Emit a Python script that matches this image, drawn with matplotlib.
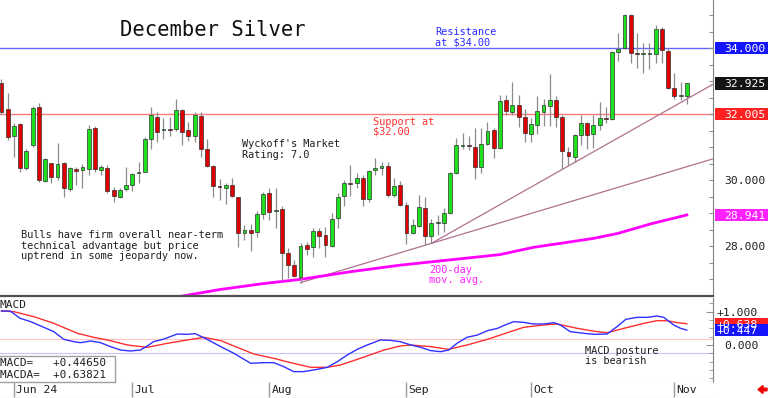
import matplotlib
matplotlib.use('Agg')
import matplotlib.pyplot as plt
from matplotlib.patches import Rectangle, FancyArrow
from matplotlib.transforms import IdentityTransform
import numpy as np

# ---------------- data ----------------
opens = [32.93, 32.14, 31.33, 31.69, 30.37, 31.06, 32.21, 29.97, 30.51, 30.10,
         30.52, 29.72, 30.32, 30.29, 30.32, 31.57, 30.31, 30.35, 29.70, 29.49,
         29.72, 29.86, 30.20, 30.25, 31.23, 31.90, 31.51, 31.53, 31.54, 32.12,
         31.52, 31.33, 31.94, 30.94, 30.42, 29.81, 29.75, 29.85, 29.48, 28.40,
         28.48, 28.43, 28.97, 29.60, 29.05, 29.12, 27.78, 27.42, 27.07, 28.02,
         27.98, 28.45, 28.33, 28.01, 28.84, 29.52, 29.91, 29.90, 30.05, 29.41,
         30.30, 30.35, 30.42, 29.55, 29.84, 29.23, 28.38, 28.62, 29.15, 28.30,
         28.70, 28.71, 29.01, 30.20, 31.03, 31.04, 30.99, 30.40, 31.08, 31.52,
         30.98, 32.42, 32.07, 32.27, 31.92, 31.39, 31.67, 32.07, 32.24, 32.42,
         31.92, 30.84, 30.71, 31.36, 31.72, 31.38, 31.67, 31.88, 31.85, 33.87,
         33.99, 35.00, 33.85, 33.81, 33.81, 33.82, 34.57, 33.92, 32.78, 32.54,
         32.55]
highs = [33.05, 32.65, 31.72, 31.72, 30.93, 32.24, 32.34, 30.68, 30.53, 31.11,
         30.55, 30.38, 30.40, 30.48, 31.66, 31.64, 30.45, 30.44, 29.78, 29.76,
         30.38, 30.22, 30.56, 31.31, 32.22, 32.07, 31.87, 31.90, 32.45, 32.15,
         31.77, 32.07, 32.07, 31.23, 30.45, 30.02, 29.92, 30.05, 29.50, 28.64,
         28.66, 29.07, 29.65, 29.75, 29.75, 29.21, 27.93, 27.58, 28.10, 28.13,
         28.54, 28.54, 28.58, 28.99, 29.62, 30.00, 30.45, 30.20, 30.15, 30.30,
         30.66, 30.56, 30.56, 30.05, 29.98, 29.34, 28.81, 29.55, 29.49, 28.81,
         28.94, 29.14, 30.25, 31.26, 31.41, 31.33, 31.57, 31.57, 31.77, 31.57,
         32.58, 32.58, 32.98, 32.58, 32.14, 31.87, 32.55, 32.45, 33.21, 32.55,
         31.97, 31.01, 31.40, 31.97, 31.77, 31.97, 32.37, 32.22, 33.92, 34.45,
         35.03, 35.03, 34.45, 34.16, 34.16, 34.70, 34.65, 34.00, 33.23, 32.98,
         32.95]
lows = [32.00, 31.21, 30.71, 30.25, 30.30, 30.99, 29.95, 29.94, 29.92, 30.00,
        29.48, 29.68, 29.85, 29.75, 30.15, 30.25, 30.15, 29.60, 29.34, 29.44,
        29.68, 29.68, 29.92, 30.24, 30.93, 31.16, 31.23, 31.33, 31.48, 31.06,
        31.19, 31.16, 30.71, 30.38, 29.49, 29.39, 29.27, 29.50, 27.98, 28.18,
        27.86, 28.28, 28.81, 28.79, 28.54, 26.97, 27.02, 27.05, 26.89, 27.73,
        27.68, 27.93, 27.68, 27.98, 28.54, 29.21, 29.52, 29.77, 29.21, 29.34,
        30.15, 30.15, 29.49, 29.50, 29.21, 28.06, 28.36, 28.58, 28.03, 28.08,
        28.33, 28.43, 28.98, 30.18, 30.93, 30.90, 30.02, 30.22, 31.05, 30.66,
        30.93, 31.97, 31.97, 31.62, 31.16, 31.16, 31.39, 31.64, 31.64, 31.62,
        30.32, 30.45, 30.56, 31.06, 30.93, 30.96, 31.52, 31.72, 31.82, 33.62,
        33.97, 33.55, 33.38, 33.25, 33.35, 33.54, 33.54, 32.75, 32.45, 32.42,
        32.30]
closes = [32.07, 31.29, 31.64, 30.37, 30.89, 32.17, 30.00, 30.63, 30.08, 30.48,
          29.77, 30.35, 30.28, 30.38, 31.54, 30.33, 30.38, 29.68, 29.52, 29.70,
          29.86, 30.18, 30.25, 31.24, 31.97, 31.45, 31.53, 31.51, 32.12, 31.46,
          31.34, 31.96, 30.93, 30.42, 29.83, 29.79, 29.85, 29.52, 28.40, 28.48,
          28.40, 28.96, 29.57, 29.04, 29.07, 27.78, 27.42, 27.09, 28.01, 27.91,
          28.46, 28.30, 28.03, 28.82, 29.49, 29.92, 29.89, 30.05, 29.41, 30.27,
          30.37, 30.42, 29.55, 29.82, 29.24, 28.40, 28.64, 29.17, 28.30, 28.69,
          28.72, 29.01, 30.20, 31.06, 31.05, 31.02, 30.40, 31.08, 31.48, 30.98,
          32.40, 32.09, 32.27, 31.92, 31.41, 31.70, 32.09, 32.26, 32.42, 31.92,
          30.89, 30.73, 31.36, 31.72, 31.36, 31.67, 31.87, 31.86, 33.89, 33.96,
          35.00, 33.86, 33.83, 33.86, 33.83, 34.57, 33.94, 32.78, 32.55, 32.56,
          32.925]

month_ticks = [2, 21, 43, 65, 85, 108]
month_labels = ['Jun 24', 'Jul', 'Aug', 'Sep', 'Oct', 'Nov']

# 200-day moving average (read points)
ma_x = [26.5, 35, 42, 48, 56, 64, 72, 80, 85.4, 95, 98.9, 104.2, 110]
ma_y = [26.40, 26.68, 26.86, 26.99, 27.22, 27.42, 27.58, 27.74, 27.96, 28.23, 28.38, 28.67, 28.941]

# trend lines: (start index, start price) -> (through index, through price)
trend_start_x = [48, 69]
trend_start_y = [26.89, 28.08]
trend_thru_x = [69, 90]
trend_thru_y = [28.08, 30.32]

resistance = 34.0
support = 32.005
last_price = 32.925
ma_last = 28.941

# MACD (blue) and MACDA (red) read points
macd_x = [0, 1.4, 3.0, 4.7, 6.8, 8.4, 10.0, 11.6, 12.7, 14.3, 15.9, 17.5, 19.1, 20.7,
          22.3, 23.4, 24.4, 26.1, 28.2, 29.8, 31.1, 33.0, 35.2, 37.3, 40.0, 42.1,
          43.7, 45.3, 46.9, 48.5, 50.7, 52.3, 53.9, 55.5, 57.1, 58.7, 60.8, 62.4,
          64.0, 65.7, 67.3, 68.9, 70.5, 71.8, 73.1, 74.7, 76.4, 78.0, 79.6, 81.2,
          82.2, 83.8, 85.4, 87.0, 88.7, 89.7, 91.3, 93.5, 95.1, 97.2, 98.8, 100.2,
          102.0, 103.6, 105.2, 106.3, 107.9, 109.0, 110]
macd_y = [1.02, 1.02, 0.80, 0.70, 0.53, 0.40, 0.17, 0.10, 0.07, 0.12, 0.07, -0.05, -0.15, -0.18,
          -0.15, -0.03, 0.10, 0.18, 0.33, 0.32, 0.34, 0.17, -0.05, -0.25, -0.55, -0.53,
          -0.53, -0.65, -0.80, -0.80, -0.73, -0.67, -0.50, -0.30, -0.13, 0.0, 0.15, 0.14,
          0.10, 0.0, -0.07, -0.17, -0.20, -0.15, 0.05, 0.23, 0.30, 0.43, 0.50, 0.63,
          0.70, 0.68, 0.63, 0.63, 0.67, 0.60, 0.40, 0.35, 0.32, 0.33, 0.55, 0.77,
          0.83, 0.83, 0.87, 0.83, 0.60, 0.50, 0.4465]
sig_x = [0, 2.0, 5.2, 8.4, 12.2, 14.8, 17.5, 20.2, 23.4, 26.6, 29.8, 32.5, 35.2, 37.3,
         40.5, 43.7, 46.4, 49.6, 52.3, 54.4, 57.6, 61.4, 64.0, 65.7, 68.9, 71.8, 74.7,
         78.0, 81.2, 83.8, 87.0, 89.2, 92.4, 95.6, 97.2, 99.9, 103.1, 105.2, 106.8,
         108.5, 110]
sig_y = [1.02, 1.00, 0.85, 0.65, 0.35, 0.23, 0.13, 0.0, -0.07, 0.05, 0.15, 0.23, 0.13, -0.03,
         -0.27, -0.40, -0.53, -0.67, -0.67, -0.60, -0.40, -0.15, -0.03, 0.0, -0.05, -0.13, 0.0,
         0.17, 0.37, 0.53, 0.60, 0.63, 0.50, 0.40, 0.37, 0.50, 0.65, 0.73, 0.73,
         0.67, 0.638]
macd_upper = 0.17
macd_lower = -0.23

# ---------------- figure ----------------
W, H = 768, 398
fig = plt.figure(figsize=(W / 100, H / 100), dpi=100)
fig.patch.set_facecolor('white')
MONO = 'DejaVu Sans Mono'


def rect(x0, y0, x1, y1):
    return [x0 / W, 1 - y1 / H, (x1 - x0) / W, (y1 - y0) / H]


def ftext(x, y, s, **kw):
    kw.setdefault('family', MONO)
    kw.setdefault('fontsize', 7.4)
    fig.text(x / W, 1 - y / H, s, ha='left', va='baseline', **kw)


XL = (-0.24, 114.2)
ax = fig.add_axes(rect(0, 0, 713, 296))
axm = fig.add_axes(rect(0, 298, 713, 382))
axd = fig.add_axes(rect(0, 382, 713, 398))

# ---------------- price panel ----------------
n = len(opens)
xs = np.arange(n)
o = np.array(opens); c = np.array(closes); hi = np.array(highs); lo = np.array(lows)
up = c >= o
ax.vlines(xs, lo, hi, color='#8c8c8c', lw=0.9, zorder=2)
body_h = np.maximum(np.abs(c - o), 0.03)
ax.bar(xs, body_h, bottom=np.minimum(o, c), width=0.62,
       color=np.where(up, '#1ee01e', '#e00000'), edgecolor='#303030', lw=0.5, zorder=3)

ax.axhline(resistance, color='#6464ff', lw=1.0, zorder=1)
ax.axhline(support, color='#ff7a7a', lw=1.0, zorder=1)

for x0, y0, x1, y1 in zip(trend_start_x, trend_start_y, trend_thru_x, trend_thru_y):
    slope = (y1 - y0) / (x1 - x0)
    ax.plot([x0, XL[1]], [y0, y0 + slope * (XL[1] - x0)], color='#b07090', lw=0.9, zorder=1.5)

ax.plot(ma_x, ma_y, color='#ff00ff', lw=2.0, zorder=1.8)

ax.set_xlim(*XL)
ax.set_ylim(26.485, 35.455)
for s in ['top', 'left']:
    ax.spines[s].set_visible(False)
ax.spines['right'].set_color('#808080')
ax.spines['bottom'].set_color('#505050')
ax.spines['bottom'].set_linewidth(1.6)
ax.set_xticks([])
ax.yaxis.tick_right()
ax.set_yticks(np.arange(26.5, 35.5, 0.5))
ax.tick_params(axis='y', direction='in', length=3, color='#909090', labelright=False)

ytr = ax.get_yaxis_transform()


def rlabel(axis, trans, y, s, box=None, x=1.0154, bh=0.38, fs=8.2):
    if box is not None:
        axis.add_patch(Rectangle((1.0028, y - bh / 2), 0.0744, bh, transform=trans,
                                 facecolor=box, edgecolor='none', clip_on=False, zorder=5))
    axis.text(x, y, s, transform=trans, ha='left', va='center_baseline', family=MONO,
              fontsize=fs, color='white' if box else '#202020', clip_on=False, zorder=6)


rlabel(ax, ytr, resistance, '34.000', '#1414ff')
rlabel(ax, ytr, last_price, '32.925', '#141414')
rlabel(ax, ytr, support, '32.005', '#ff2020')
rlabel(ax, ytr, 30.0, '30.000')
rlabel(ax, ytr, 28.0, '28.000')
rlabel(ax, ytr, ma_last, '28.941', '#ff22ff')

# annotations
ftext(120, 36, 'December Silver', fontsize=14.8, color='#101010')
ftext(435, 35, 'Resistance', color='#2a2aff')
ftext(435, 45.5, 'at $34.00', color='#2a2aff')
ftext(373, 125, 'Support at', color='#ff3030')
ftext(373, 135, '$32.00', color='#ff3030')
ftext(242, 147, "Wyckoff's Market", color='#202020')
ftext(242, 157.5, 'Rating: 7.0', color='#202020')
ftext(21, 238.5, 'Bulls have firm overall near-term', color='#202020')
ftext(21, 249, 'technical advantage but price', color='#202020')
ftext(21, 259, 'uptrend in some jeopardy now.', color='#202020')
ftext(429, 273, '200-day', color='#ff22ff')
ftext(429, 283, 'mov. avg.', color='#ff22ff')

# ---------------- MACD panel ----------------
axm.plot(sig_x, sig_y, color='#ff3030', lw=1.0, zorder=3)
axm.plot(macd_x, macd_y, color='#3030ff', lw=1.0, zorder=4)
axm.axhline(macd_upper, color='#ffc4c4', lw=0.8, zorder=1)
axm.axhline(macd_lower, color='#c4c4ff', lw=0.8, zorder=1)
axm.set_xlim(*XL)
axm.set_ylim(-1.111, 1.411)
for s in ['top', 'left']:
    axm.spines[s].set_visible(False)
axm.spines['right'].set_color('#808080')
axm.spines['bottom'].set_color('#a8a8a8')
axm.set_xticks([])
axm.yaxis.tick_right()
axm.set_yticks([0.0, 1.0])
axm.set_yticks(np.arange(-1.0, 1.4, 0.25), minor=True)
axm.tick_params(axis='y', which='major', direction='in', length=5, color='#909090', labelright=False)
axm.tick_params(axis='y', which='minor', direction='in', length=3, color='#909090')

mtr = axm.get_yaxis_transform()
rlabel(axm, mtr, 1.0, '+1.000', x=1.005, fs=8.2)
rlabel(axm, mtr, 0.0, '0.000', x=1.0154, fs=8.2)
rlabel(axm, mtr, sig_y[-1], '+0.638', '#ff2020', x=1.005, bh=0.33, fs=8.2)
rlabel(axm, mtr, macd_y[-1], '+0.447', '#1414ff', x=1.005, bh=0.36, fs=8.2)

ftext(0, 308.5, 'MACD', fontsize=8.0, color='#202020')
fig.patches.append(Rectangle((-2, 398 - 381.5), 117, 25.5, transform=IdentityTransform(),
                             facecolor='white', edgecolor='#a0a0a0', lw=1.0, zorder=10))
ftext(0, 366, 'MACD=   +0.44650', fontsize=7.9, color='#202020', zorder=11)
ftext(0, 377.5, 'MACDA=  +0.63821', fontsize=7.9, color='#202020', zorder=11)
ftext(585, 354.5, 'MACD posture', color='#202020')
ftext(585, 364.5, 'is bearish', color='#202020')

# ---------------- date row ----------------
axd.set_xlim(*XL)
axd.set_ylim(0, 1)
axd.vlines(month_ticks, 0.05, 1, color='#9a9a9a', lw=1.0)
for t, lab in zip(month_ticks, month_labels):
    axd.text(t + 0.32, 0.34, lab, ha='left', va='baseline', family=MONO, fontsize=8.2,
             color='#202020')
for s in ['left', 'right', 'top']:
    axd.spines[s].set_visible(False)
axd.spines['bottom'].set_color('#d0d0d0')
axd.set_xticks([]); axd.set_yticks([])

# red arrow bottom right
fig.patches.append(FancyArrow(767, 398 - 389.5, -9, 0, width=2.6, head_width=8,
                              head_length=5, length_includes_head=True,
                              transform=IdentityTransform(), color='#ee0000'))

fig.savefig('out.png', dpi=100, facecolor='white')
